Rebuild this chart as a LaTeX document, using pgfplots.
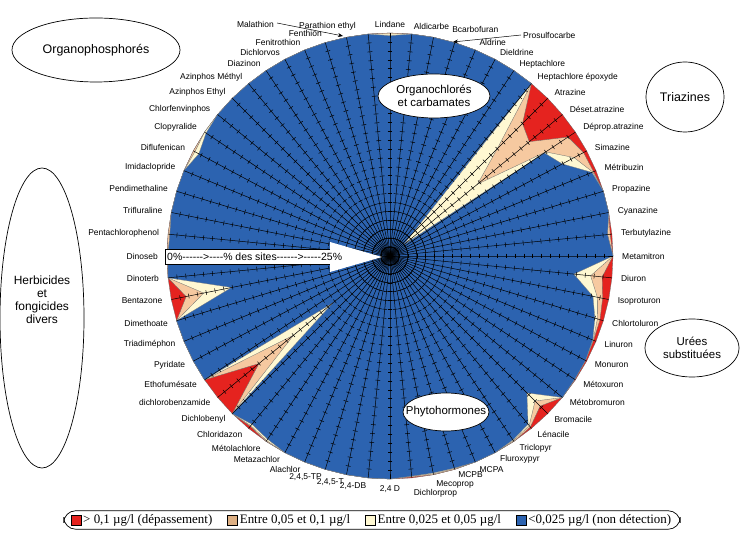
\documentclass[border=0pt]{standalone}
\usepackage{pgfplots}
\pgfplotsset{compat=1.18}
\usepackage{pgfplotstable}
\usepgfplotslibrary{polar}
\usetikzlibrary{arrows.meta}
\usepackage{fontspec}
\newfontfamily\lab{Liberation Sans}
\newfontfamily\legf{Liberation Serif}
\definecolor{cred}{RGB}{229,35,31}
\definecolor{ctan}{RGB}{246,201,160}
\definecolor{ccream}{RGB}{255,248,210}
\definecolor{cblue}{RGB}{44,99,176}
\definecolor{ltan}{RGB}{222,176,132}

% cumulative % of sites: a = >0.1, b = >0.05, c = >0.025
\pgfplotstableread{
ang a b c
90 0 0.1 0.3
84.375 0 0 0
78.75 0 0 0
73.125 0 0 0
67.5 0 0 0
61.875 0 0 0
56.25 0 0 0
50.625 0 0 0
45 4.0 8.0 21.5
39.375 4.8 12.3 23.0
33.75 1.0 4.0 4.2
28.125 0.4 1.6 3.1
22.5 0.3 0.4 0.5
16.875 0 0 0
11.25 0 0 0
5.625 0.2 0.5 0.5
0 0 0 0
354.375 1.1 2.4 4.3
348.75 0.7 1.3 1.8
343.125 0.4 0.7 1.0
337.5 0.3 0.35 0.4
331.875 0.15 0.15 0.15
326.25 0.1 0.1 0.1
320.625 0 0 0
315 1.2 2.0 3.3
309.375 0.2 0.4 0.6
303.75 0 0.1 0.2
298.125 0 0 0
292.5 0 0 0
286.875 0 0.1 0.15
281.25 0 0.1 0.2
275.625 0.1 0.2 0.2
270 0 0 0
264.375 0 0 0
258.75 0 0 0
253.125 0 0 0
247.5 0 0 0
241.875 0 0 0
236.25 0 0.1 0.3
230.625 0.3 0.4 0.6
225 0 0 0
219.375 6.0 11.0 16.7
213.75 0 0 0
208.125 0 0 0
202.5 0 0 0
196.875 0 0 0
191.25 1.7 3.7 6.9
185.625 0 0 0
180 0 0.1 0.1
174.375 0 0.2 0.2
168.75 0 0 0
163.125 0 0 0
157.5 0 0 0
151.875 0 0.2 0.7
146.25 0 0 0.2
140.625 0 0 0
135 0 0 0
129.375 0 0 0
123.75 0 0 0
118.125 0 0 0
112.5 0 0 0
106.875 0 0 0
101.25 0 0 0
95.625 0 0 0
}\data

\pgfplotstableread{
r
0
1
2
3
4
5
6
7
8
9
10
11
12
13
14
15
16
17
18
19
20
21
22
23
24
25
}\radii

\tikzset{polanchor/.code={%
  \pgfmathsetmacro\pcos{cos(\tick)}%
  \pgfmathsetmacro\psin{sin(\tick)}%
  \ifdim\pcos pt>0.05pt\relax\tikzset{anchor=west}\pgfmathsetmacro\pd{8}%
  \else\ifdim\pcos pt<-0.05pt\relax\tikzset{anchor=east}\pgfmathsetmacro\pd{8}%
  \else\ifdim\psin pt>0pt\relax\tikzset{anchor=south}\pgfmathsetmacro\pd{4}%
  \else\tikzset{anchor=north}\pgfmathsetmacro\pd{5}\fi\fi\fi
  \pgfmathsetmacro\pdx{\pd*\pcos}%
  \pgfmathsetmacro\pdy{\pd*\psin}%
  \tikzset{xshift=\pdx bp, yshift=\pdy bp}}}

\begin{document}
\begin{tikzpicture}
\useasboundingbox (0,0) rectangle (742bp,550bp);
\begin{polaraxis}[
  at={(390bp,294bp)}, anchor=center,
  width=446bp, height=446bp, scale only axis,
  xmin=0, xmax=360, ymin=0, ymax=25,
  axis line style={draw=none},
  grid=none, ytick=\empty,
  major tick length=0pt,
  xtick={90,84.375,78.75,73.125,67.5,61.875,56.25,50.625,45,39.375,33.75,28.125,22.5,16.875,11.25,5.625,0,354.375,348.75,343.125,337.5,331.875,326.25,320.625,315,309.375,303.75,298.125,292.5,286.875,281.25,275.625,270,264.375,258.75,253.125,247.5,241.875,236.25,230.625,225,219.375,213.75,208.125,202.5,196.875,191.25,185.625,180,174.375,168.75,163.125,157.5,151.875,146.25,140.625,135,129.375,123.75,118.125,112.5,106.875,101.25,95.625},
  xticklabels={Lindane, Aldicarbe, {\hspace*{16bp}Bcarbofuran}, {}, Aldrine, Dieldrine, Heptachlore, Heptachlore époxyde, Atrazine, Déset.atrazine, Déprop.atrazine, Simazine, Métribuzin, Propazine, Cyanazine, Terbutylazine, Metamitron, Diuron, Isoproturon, Chlortoluron, Linuron, Monuron, Métoxuron, Métobromuron, Bromacile, Lénacile, Triclopyr, Fluroxypyr, MCPA, {\raisebox{2bp}[\height][\depth]{MCPB}}, {\raisebox{-1.5bp}[\height][\depth]{Mecoprop}}, {\raisebox{-7bp}[\height][\depth]{Dichlorprop}}, {2,4 D}, {2,4-DB}, {2,4,5-T}, {2,4,5-TP}, Alachlor, Metazachlor, Métolachlore, Chloridazon, Dichlobenyl, dichlorobenzamide, Ethofumésate, Pyridate, Triadiméphon, Dimethoate, Bentazone, Dinoterb, Dinoseb, Pentachlorophenol, Trifluraline, Pendimethaline, Imidaclopride, Diflufenican, Clopyralide, Chlorfenvinphos, Azinphos Ethyl, Azinphos Méthyl, Diazinon, Dichlorvos, Fenitrothion, {\raisebox{1bp}[\height][\depth]{Fenthion}}, {\raisebox{3bp}[\height][\depth]{Parathion ethyl}\hspace*{-12bp}}, {}},
  xticklabel style={font=\lab\fontsize{8.5}{10}\selectfont, inner sep=1bp, polanchor},
  clip=false,
  legend columns=4,
  legend image code/.code={\draw[#1,draw=black,line width=0.5pt,sharp corners] (0bp,-5bp) rectangle (10bp,5bp);},
  legend style={at={(0.4596,-0.0919)}, anchor=center, draw=black, line width=0.7pt,
    rounded corners=12bp, font=\legf\fontsize{13}{15}\selectfont,
    inner xsep=7bp, inner ysep=2bp,
    /tikz/every even column/.append style={column sep=13bp}, cells={anchor=west}},
]
\addplot[fill=cred, draw=black!60, line width=0.3pt, forget plot] table[x=ang, y expr=25] {\data} -- cycle;
\addplot[fill=ctan, draw=black!60, line width=0.3pt, forget plot] table[x=ang, y expr=25-\thisrow{a}] {\data} -- cycle;
\addplot[fill=ccream, draw=black!60, line width=0.3pt, forget plot] table[x=ang, y expr=25-\thisrow{b}] {\data} -- cycle;
\addplot[fill=cblue, draw=black!50, line width=0.3pt, forget plot] table[x=ang, y expr=25-\thisrow{c}] {\data} -- cycle;
\pgfplotsinvokeforeach{0,...,63}{
  \addplot[black, line width=0.5pt, mark=|, mark size=2.4bp, mark indices={2,...,25},
    mark options={rotate={90-#1*5.625}, line width=0.5pt}, forget plot]
    table[x expr={mod(450-#1*5.625,360)}, y=r] {\radii};
}
\addlegendimage{fill=cred}\addlegendentry{> 0,1 µg/l (dépassement)}
\addlegendimage{fill=ltan}\addlegendentry{Entre 0,05 et 0,1 µg/l}
\addlegendimage{fill=ccream}\addlegendentry{Entre 0,025 et 0,05 µg/l}
\addlegendimage{fill=cblue}\addlegendentry{<0,025 µg/l (non détection)}
\end{polaraxis}

% arrow "% des sites"
\fill[white] (165bp,285.5bp) -- (330bp,285.5bp) -- (330bp,278bp) -- (382bp,293bp) -- (330bp,308bp) -- (330bp,300.5bp) -- (165bp,300.5bp) -- cycle;
\draw[line width=0.5pt] (330bp,300.5bp) -- (165bp,300.5bp) -- (165bp,285.5bp) -- (330bp,285.5bp);
\node[anchor=west, inner sep=0pt, font=\lab\fontsize{10.5}{12}\selectfont] at (167bp,293bp) {0\%------>----\% des sites------>-----25\%};

% displaced labels
\draw[-{Stealth[length=5bp,width=4bp]}, line width=0.5pt] (277bp,527bp) -- (343bp,514bp);
\node[anchor=east, inner sep=0pt, font=\lab\fontsize{8.5}{10}\selectfont] at (274bp,526bp) {Malathion};
\draw[-{Stealth[length=5bp,width=4bp]}, line width=0.5pt] (521bp,515bp) -- (453bp,508bp);
\node[anchor=west, inner sep=0pt, font=\lab\fontsize{8.5}{10}\selectfont] at (523bp,515bp) {Prosulfocarbe};

% group ellipses
\draw[line width=0.7pt, fill=white] (96bp,500bp) ellipse [x radius=84bp, y radius=32bp];
\node[font=\lab\fontsize{12.5}{14}\selectfont] at (96bp,500bp) {Organophosphorés};
\draw[line width=0.7pt, fill=white] (434bp,454bp) ellipse [x radius=56bp, y radius=22bp];
\node[align=center, font=\lab\fontsize{11.5}{13}\selectfont] at (434bp,454bp) {Organochlorés\\et carbamates};
\draw[line width=0.7pt, fill=white] (685bp,453bp) ellipse [x radius=39bp, y radius=35bp];
\node[font=\lab\fontsize{12.5}{14}\selectfont] at (685bp,453bp) {Triazines};
\draw[line width=0.7pt, fill=white] (692bp,202bp) ellipse [x radius=47bp, y radius=29bp];
\node[align=center, font=\lab\fontsize{11.5}{13}\selectfont] at (692bp,202bp) {Urées\\substituées};
\draw[line width=0.7pt, fill=white] (446bp,138bp) ellipse [x radius=43bp, y radius=19bp];
\node[font=\lab\fontsize{11.5}{13}\selectfont] at (446bp,138bp) {Phytohormones};
\draw[line width=0.7pt, fill=white] (42bp,232bp) ellipse [x radius=42bp, y radius=150bp];
\node[align=center, font=\lab\fontsize{12}{13}\selectfont] at (42bp,250bp) {Herbicides\\et\\fongicides\\divers};
\end{tikzpicture}
\end{document}
